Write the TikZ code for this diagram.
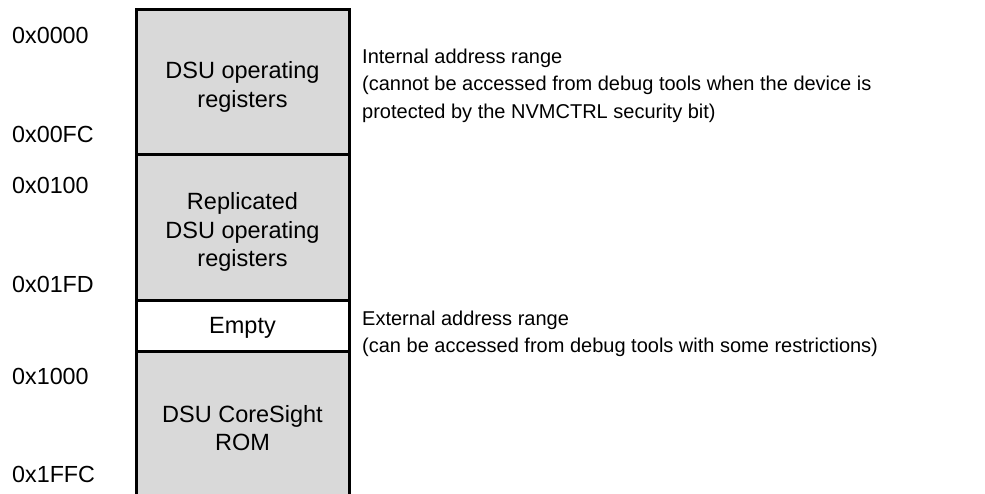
\documentclass[tikz,border=0pt]{standalone}
\usepackage{fontspec}
\setmainfont{Liberation Sans}
\definecolor{regfill}{HTML}{D9D9D9}
\begin{document}
\begin{tikzpicture}[x=1pt,y=-1pt,
  boxtext/.style={align=center,font=\fontsize{23.5}{28.5}\selectfont,inner sep=0pt},
  addr/.style={anchor=base west,font=\fontsize{23.3}{28}\selectfont,inner sep=0pt},
  note/.style={anchor=base west,align=left,font=\fontsize{20}{27.3}\selectfont,inner sep=0pt},
  region/.style={draw=black,line width=3pt}]
\useasboundingbox (0,0) rectangle (985,494);
\begin{scope}
\clip (0,0) rectangle (985,494);
\path[region,fill=regfill] (136,10) rectangle (349,155);
\path[region,fill=regfill] (136,155) rectangle (349,301);
\path[region,fill=white] (136,301) rectangle (349,351);
\path[region,fill=regfill] (136,351) rectangle (349,510);
\end{scope}
% region labels
\node[boxtext] (r1) at (242.5,87) {DSU operating\\registers};
\node[boxtext] (r2) at (242.5,232) {Replicated\\DSU operating\\registers};
\node[boxtext] (r3) at (242.5,328) {Empty};
\node[boxtext] (r4) at (242.5,428) {DSU CoreSight\\ROM};
% addresses
\node[addr] (a1) at (12,44) {0x0000};
\node[addr] (a2) at (12,143) {0x00FC};
\node[addr] (a3) at (12,194) {0x0100};
\node[addr] (a4) at (12,292.7) {0x01FD};
\node[addr] (a5) at (12,384) {0x1000};
\node[addr] (a6) at (12,482.7) {0x1FFC};
% notes (base = baseline of last line)
\node[note] (n1) at (362,118.3) {Internal address range\\(cannot be accessed from debug tools when the device is\\protected by the NVMCTRL security bit)};
\node[note] (n2) at (362,352.3) {External address range\\(can be accessed from debug tools with some restrictions)};
\end{tikzpicture}
\end{document}
